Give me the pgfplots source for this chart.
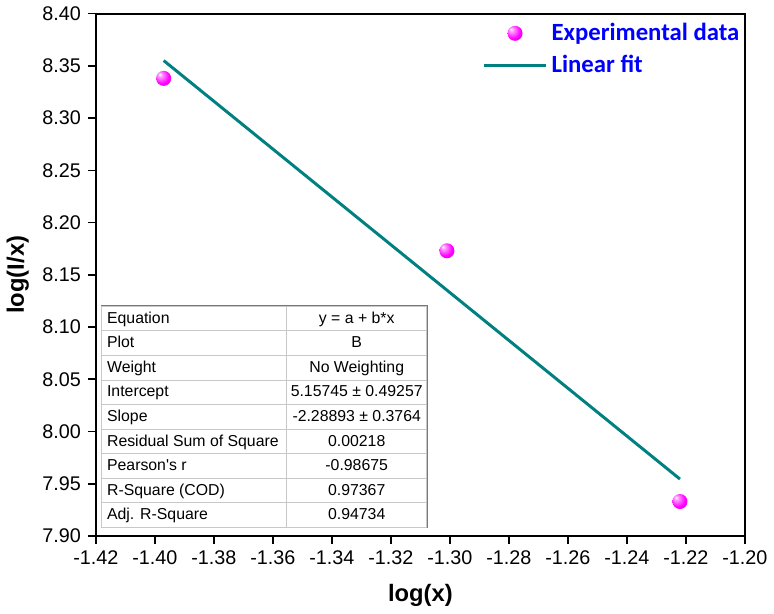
\documentclass[border=0pt]{standalone}
\usepackage{pgfplots}
\pgfplotsset{compat=1.18}
\usepackage{fontspec}
\usepackage{array}
\usepackage{colortbl}
\setmainfont{Liberation Sans}
\newfontfamily\calibri{Carlito}
\definecolor{fitteal}{RGB}{0,128,128}
\definecolor{tblrule}{RGB}{200,200,200}
\definecolor{tblborder}{RGB}{120,120,120}
% shiny magenta ball, no outline
\pgfdeclareradialshading{magball}{\pgfpoint{-14bp}{14bp}}{%
  color(0bp)=(white); color(7bp)=(magenta!40!white); color(24bp)=(magenta);
  color(50bp)=(magenta!80!black)}
\pgfdeclareplotmark{magball}{%
  \pgfpathcircle{\pgfpointorigin}{3.8pt}%
  \pgfshadepath{magball}{0}%
  \pgfusepath{discard}}
\begin{document}
\begin{tikzpicture}
\begin{axis}[
  scale only axis,
  width=328pt, height=264pt,
  xmin=-1.42, xmax=-1.20,
  ymin=7.90, ymax=8.40,
  xtick={-1.42,-1.40,-1.38,-1.36,-1.34,-1.32,-1.30,-1.28,-1.26,-1.24,-1.22,-1.20},
  ytick={7.90,7.95,8.00,8.05,8.10,8.15,8.20,8.25,8.30,8.35,8.40},
  xtick pos=bottom, ytick pos=left,
  tick align=outside,
  major tick length=4pt,
  every tick/.style={black, line width=0.8pt},
  axis line style={line width=1pt},
  /pgf/number format/assume math mode=true,
  xticklabel style={/pgf/number format/.cd, fixed, fixed zerofill, precision=2},
  yticklabel style={/pgf/number format/.cd, fixed, fixed zerofill, precision=2},
  tick label style={font=\fontsize{10}{12}\selectfont},
  xlabel={log(x)}, ylabel={log(I/x)},
  label style={font=\bfseries\fontsize{12}{14}\selectfont},
  xlabel style={yshift=-3pt},
  legend style={draw=none, fill=none, at={(rel axis cs:0.595,0.99)}, anchor=north west,
    font=\calibri\bfseries\fontsize{12.5}{14}\selectfont, text=blue, row sep=2pt, inner sep=0pt},
  legend cell align=left,
  legend image code/.code={\draw[mark repeat=2,mark phase=2,#1] plot coordinates {(0pt,0pt) (15.75pt,0pt) (31.5pt,0pt)};},
]
\addplot[only marks, mark=magball] coordinates {
  (-1.397, 8.338)
  (-1.301, 8.173)
  (-1.222, 7.933)
};
\addlegendentry{Experimental data}
\addplot[fitteal, line width=1.5pt, no marks] coordinates {
  (-1.397, 8.35505)
  (-1.222, 7.95448)
};
\addlegendentry{Linear fit}
\node[anchor=south west, inner sep=0pt, draw=tblborder, line width=0.6pt, fill=white]
  at (rel axis cs:0.0076,0.015) {%
  \fontsize{8}{12}\selectfont
  \setlength\tabcolsep{2.5pt}%
  \arrayrulecolor{tblrule}%
  \begin{tabular}{|p{88pt}|@{}>{\centering\arraybackslash}p{70.5pt}@{}|}
  \hline
  Equation & y = a + b*x \\ \hline
  Plot & B \\ \hline
  Weight & No Weighting \\ \hline
  Intercept & 5.15745 ± 0.49257 \\ \hline
  Slope & -2.28893 ± 0.3764 \\ \hline
  Residual Sum of Square & 0.00218 \\ \hline
  Pearson\textquotesingle s r & -0.98675 \\ \hline
  R-Square (COD) & 0.97367 \\ \hline
  Adj. R-Square & 0.94734 \\ \hline
  \end{tabular}};
\end{axis}
\end{tikzpicture}
\end{document}
